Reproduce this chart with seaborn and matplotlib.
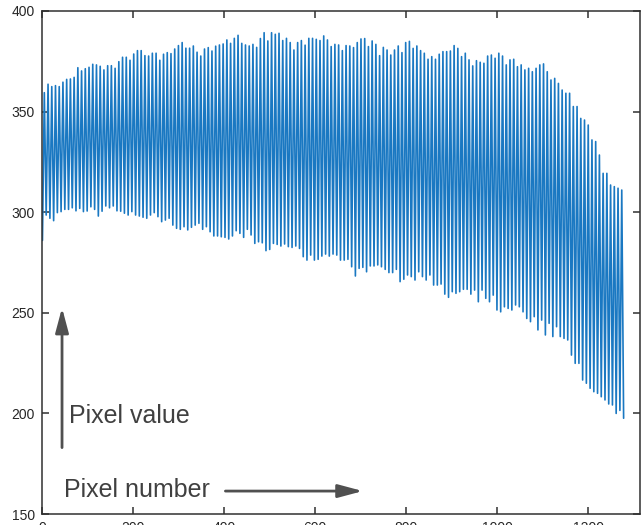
import numpy as np
import pandas as pd
import matplotlib
matplotlib.use("Agg")
import matplotlib.pyplot as plt
import seaborn as sns

# ---- data ----
# trough (minimum) values of each oscillation, left to right
trough_values = [
    286, 298.6, 297, 295.8, 299.8, 300.3, 301.4, 301.4, 302.2, 300.7,
    301.9, 300.3, 300.6, 302.7, 301.4, 298.1, 300.5, 303.1, 302.2, 303.1,
    300.7, 300.5, 299.5, 298.6, 300.3, 298.6, 298.1,
    297.5, 297, 298.6, 299.8, 297.8, 295.3, 296.1, 297, 293.6, 292,
    291.5, 292.8, 291.2, 292.5, 293.6, 294.5, 291.5, 292.8, 290.3, 288.2,
    288.2, 287.8, 287.5, 286.7, 288.2, 290.8, 289.5, 287.5, 291.5, 288.7,
    284.5, 285.3, 284.8, 280.9, 281.5, 284.5, 284, 283.2, 284.2, 282.9,
    282.5, 283.2, 282, 277.9, 276.2, 278.7, 276.2, 276.6, 278.2, 279.2,
    278.2, 279.2, 278.7, 276.2, 276.2, 276.6, 272.9, 268.3, 272.1, 272.6,
    270.4, 273.3, 273.3, 273.8, 272.9, 271.6, 270, 270, 271.6, 265.5,
    266.7, 268.8, 268, 266.3, 270.4, 268, 266.3, 268.8, 263.8, 263.8,
    264.3, 259.3, 257.7, 260.5, 259.7, 260.5, 261.7, 261.7, 259.3, 261.3, 255.5,
    261.3, 257.2, 255.5, 258.8, 251.4, 250.5, 253, 252.2, 251.4, 253.9,
    253, 250.5, 247.2, 245.6, 248.1, 241.5, 246.4, 239, 244.8, 238.2,
    243.1, 238.2, 237.3, 236.5, 229, 224.9, 224.9, 216.6, 215, 212.5,
    210.8, 210, 208.3, 206.7, 204.7, 204.2, 200, 201.5, 197.6,
]

# peak (maximum) values of each oscillation, left to right
peak_values = [
    359.4, 363.6, 362.4, 362.9, 362.4, 364.6, 366.0, 366.2, 367.0, 371.8,
    370.2, 371.3, 372.0, 373.5, 373.2, 372.5, 370.7, 372.8, 372.8, 371.5,
    374.8, 377.0, 377.0, 375.5, 378.6, 380.3, 380.3, 377.8, 377.6, 379.0,
    379.0, 375.5, 378.5, 379.3, 378.8, 381.1, 382.8, 384.3, 381.5, 381.5,
    382.6, 379.5, 377.6, 381.1, 381.8, 380.1, 382.5, 383.1,
    383.6, 385.6, 383.9, 386.4, 387.9, 383.9, 383.1, 382.6, 383.4, 381.9,
    386.3, 389.2, 385.1, 389.2, 388.4, 388.9, 385.3, 386.4, 384.3, 380.6,
    384.3, 385.3, 383.0, 386.4, 386.4, 385.9, 385.3, 387.6, 385.6, 382.3,
    383.4, 383.1, 380.3, 382.8, 382.6, 381.8, 384.3, 386.1, 386.3, 382.3,
    385.1, 383.4, 377.8, 381.9, 380.6, 378.1, 380.6, 382.6, 379.3, 384.3,
    384.9, 381.4, 382.6, 380.3, 379.0, 376.0, 377.3, 376.0, 378.5, 379.8,
    379.8, 380.1, 382.8, 381.4, 377.3, 379.0, 375.7, 372.7, 375.3, 374.5,
    374.0, 377.6,
    378.1, 376.5, 379.0, 377.6, 373.2, 375.7, 376.0, 372.3, 373.2, 370.7,
    371.5, 369.8, 371.5, 373.2, 373.7, 369.8, 365.7, 366.5, 364.0, 360.7,
    359.1, 359.1, 352.5, 352.5, 346.6, 345.8, 343.3, 335.9, 335.1, 328.4,
    319.3, 319.3, 313.5, 312.7, 311.9, 311.0,
]

first_pixel = 1
last_pixel = 1278

x_ticks = [0, 200, 400, 600, 800, 1000, 1200]
y_ticks = [150, 200, 250, 300, 350, 400]

# ---- build the signal: trough, peak, trough, peak, ... ----
n_t = len(trough_values)
n_p = len(peak_values)
assert n_p == n_t - 1, (n_t, n_p)
x_trough = np.linspace(first_pixel, last_pixel, n_t)
x_peak = (x_trough[:-1] + x_trough[1:]) / 2
xs = np.empty(n_t + n_p)
ys = np.empty(n_t + n_p)
xs[0::2] = x_trough
xs[1::2] = x_peak
ys[0::2] = trough_values
ys[1::2] = peak_values
df = pd.DataFrame({"pixel": xs, "value": ys})

# ---- style ----
sns.set_theme(style="white")
plt.rcParams["font.family"] = ["Liberation Sans", "DejaVu Sans"]

fig = plt.figure(figsize=(6.42, 5.25), dpi=100)
ax = fig.add_axes([42 / 642, 11 / 525, (640 - 42) / 642, (514 - 11) / 525])

sns.lineplot(data=df, x="pixel", y="value", color="#1a78c2", linewidth=1.2,
             estimator=None, sort=False, ax=ax)

ax.set_xlim(0, 1314)
ax.set_ylim(150, 400)
ax.set_xticks(x_ticks)
ax.set_yticks(y_ticks)
ax.set_xlabel("")
ax.set_ylabel("")
for s in ax.spines.values():
    s.set_visible(True)
    s.set_color("#303030")
    s.set_linewidth(1.1)
ax.tick_params(direction="in", length=5, width=1.1, color="#303030",
               top=True, right=True, bottom=True, left=True,
               labelsize=10, labelcolor="#262626", pad=5)

# ---- annotations ----
ann_color = "#505050"
head = "-|>,head_length=0.75,head_width=0.2"
ax.annotate("", xy=(44, 252.5), xytext=(44, 183),
            arrowprops=dict(arrowstyle=head, color=ann_color, lw=2,
                            mutation_scale=20, shrinkA=0, shrinkB=0))
ax.annotate("", xy=(705, 161.4), xytext=(403, 161.4),
            arrowprops=dict(arrowstyle=head, color=ann_color, lw=2,
                            mutation_scale=20, shrinkA=0, shrinkB=0))
ax.text(59, 195, "Pixel value", fontsize=18, color="#404040",
        ha="left", va="baseline")
ax.text(48, 158.4, "Pixel number", fontsize=18, color="#404040",
        ha="left", va="baseline")

fig.savefig("out.png", dpi=100)
